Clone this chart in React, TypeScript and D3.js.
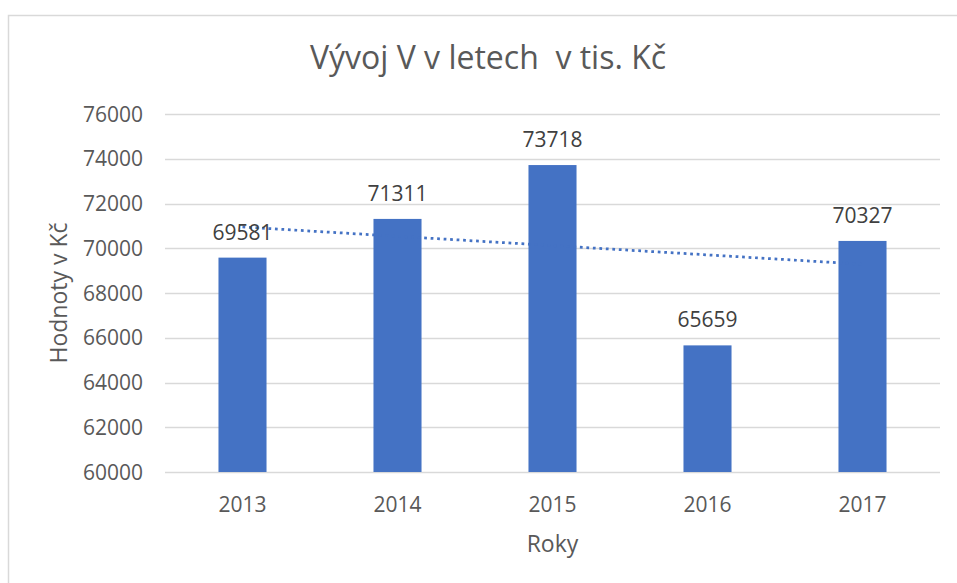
import React, { useEffect, useRef } from "react";
import * as d3 from "d3";

const years = ["2013", "2014", "2015", "2016", "2017"];
const values = [69581, 71311, 73718, 65659, 70327];
const yTicks = [60000, 62000, 64000, 66000, 68000, 70000, 72000, 74000, 76000];

const titleText = "Vývoj V v letech  v tis. Kč";
const yTitle = "Hodnoty v Kč";
const xTitle = "Roky";

export default function App() {
  const chartRef = useRef<SVGSVGElement | null>(null);
  const width = 957;
  const height = 583;

  useEffect(() => {
    const svg = d3.select(chartRef.current);
    const margin = { top: 114, right: 17, bottom: 111, left: 165 };
    const font = "'Open Sans', 'DejaVu Sans', sans-serif";
    const textColor = "#595959";
    const barColor = "#4472C4";

    // chart frame (only top and left edges show in the picture)
    svg
      .append("rect")
      .attr("x", 8.5)
      .attr("y", 15.5)
      .attr("width", width + 20)
      .attr("height", height + 20)
      .attr("fill", "white")
      .attr("stroke", "#d9d9d9")
      .attr("stroke-width", 1.5);

    const x = d3
      .scaleBand()
      .domain(years)
      .range([margin.left, width - margin.right])
      .paddingInner(0.69)
      .paddingOuter(0.345);

    const step = x.step();

    const y = d3
      .scaleLinear()
      .domain([60000, 76000])
      .range([height - margin.bottom, margin.top]);

    // gridlines
    svg
      .append("g")
      .selectAll("line")
      .data(yTicks)
      .join("line")
      .attr("x1", margin.left)
      .attr("x2", width - margin.right)
      .attr("y1", d => Math.round(y(d)) + 0.5)
      .attr("y2", d => Math.round(y(d)) + 0.5)
      .attr("stroke", "#d9d9d9")
      .attr("stroke-width", 1.5);

    // y tick labels
    svg
      .append("g")
      .selectAll("text")
      .data(yTicks)
      .join("text")
      .attr("x", 143)
      .attr("y", d => y(d))
      .attr("dy", "0.36em")
      .attr("text-anchor", "end")
      .attr("font-family", font)
      .attr("font-size", 21)
      .attr("fill", textColor)
      .text(d => d);

    // x tick labels
    svg
      .append("g")
      .selectAll("text")
      .data(years)
      .join("text")
      .attr("x", d => (x(d) as number) + x.bandwidth() / 2)
      .attr("y", 512)
      .attr("text-anchor", "middle")
      .attr("font-family", font)
      .attr("font-size", 21)
      .attr("fill", textColor)
      .text(d => d);

    const data = years.map((year, i) => ({ year, value: values[i] }));

    // bars
    svg
      .append("g")
      .selectAll("rect")
      .data(data)
      .join("rect")
      .attr("x", d => x(d.year) as number)
      .attr("y", d => y(d.value))
      .attr("width", x.bandwidth())
      .attr("height", d => y(60000) - y(d.value))
      .attr("fill", barColor);

    // linear trendline (least squares over the bar values)
    const idx = d3.range(values.length);
    const mx = d3.mean(idx) as number;
    const my = d3.mean(values) as number;
    const slope =
      d3.sum(idx, i => (i - mx) * (values[i] - my)) /
      d3.sum(idx, i => (i - mx) * (i - mx));
    const trend = idx.map(i => ({ year: years[i], value: my + slope * (i - mx) }));
    const first = trend[0];
    const last = trend[trend.length - 1];

    svg
      .append("path")
      .datum([first, last])
      .attr(
        "d",
        d3
          .line<{ year: string; value: number }>()
          .x(d => (x(d.year) as number) + x.bandwidth() / 2)
          .y(d => y(d.value))
      )
      .attr("fill", "none")
      .attr("stroke", barColor)
      .attr("stroke-width", 2.75)
      .attr("stroke-dasharray", "2.75,3.75");

    // data labels
    svg
      .append("g")
      .selectAll("text")
      .data(data)
      .join("text")
      .attr("x", d => (x(d.year) as number) + x.bandwidth() / 2)
      .attr("y", d => y(d.value) - 18)
      .attr("text-anchor", "middle")
      .attr("font-family", font)
      .attr("font-size", 21)
      .attr("fill", "#404040")
      .text(d => d.value);

    // title
    svg
      .append("text")
      .attr("x", 488)
      .attr("y", 69)
      .attr("text-anchor", "middle")
      .attr("font-family", font)
      .attr("font-size", 32)
      .attr("fill", textColor)
      .style("white-space", "pre")
      .text(titleText);

    // axis titles
    svg
      .append("text")
      .attr("transform", `translate(67,293) rotate(-90)`)
      .attr("text-anchor", "middle")
      .attr("font-family", font)
      .attr("font-size", 23)
      .attr("fill", textColor)
      .text(yTitle);

    svg
      .append("text")
      .attr("x", margin.left + step * 2.5)
      .attr("y", 552)
      .attr("text-anchor", "middle")
      .attr("font-family", font)
      .attr("font-size", 23)
      .attr("fill", textColor)
      .text(xTitle);

    return () => {
      svg.html("");
    };
  }, [chartRef]);

  return (
    <svg
      ref={chartRef}
      width={width}
      height={height}
      style={{ position: "absolute", left: 0, top: 0, background: "white" }}
    />
  );
}
